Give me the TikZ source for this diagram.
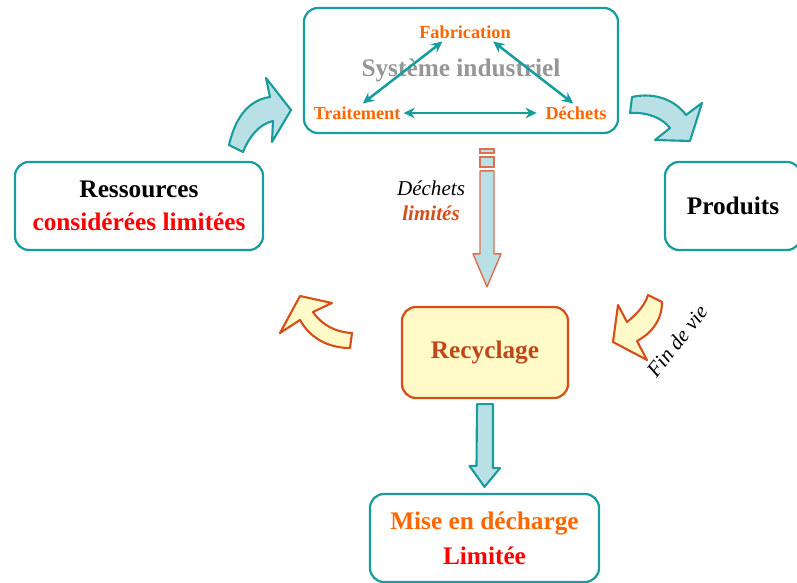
\documentclass[tikz,border=0pt]{standalone}
\usepackage{fontspec}
\setmainfont{Liberation Serif}
\usetikzlibrary{arrows.meta,calc,positioning}

\definecolor{sarcelle}{RGB}{24,156,156}
\definecolor{bleuclair}{RGB}{185,224,228}
\definecolor{orangef}{RGB}{255,102,0}
\definecolor{rougef}{RGB}{255,0,0}
\definecolor{briquef}{RGB}{214,78,26}
\definecolor{cremef}{RGB}{255,250,200}
\definecolor{saumonf}{RGB}{222,112,80}
\definecolor{grisf}{RGB}{150,150,150}

\begin{document}
\begin{tikzpicture}[x=0.025cm,y=-0.025cm,
  boite/.style={draw=sarcelle,line width=1.6pt,rounded corners=10pt,fill=white,align=center},
  etape/.style={text=orangef,font=\fontsize{13}{15}\selectfont\bfseries,inner sep=2pt},
  lien/.style={draw=sarcelle,line width=1.8pt,{Stealth[length=8pt,width=7.5pt]}-{Stealth[length=8pt,width=7.5pt]}},
  flechebleue/.style={draw=sarcelle,fill=bleuclair,line width=1.5pt,line join=round},
  flecheorange/.style={draw=briquef,fill=cremef,line width=1.5pt,line join=round}]
\useasboundingbox (0,0) rectangle (797,583);

% les boites
\node[boite,minimum width=7.85cm,minimum height=3.125cm,text=grisf,font=\fontsize{18}{20}\selectfont\bfseries] (sys) at (461,70.5) {Système industriel};
\node[boite,minimum width=6.2cm,minimum height=2.2cm,font=\fontsize{18}{23}\selectfont\bfseries] (res) at (139,206) {Ressources\\\textcolor{rougef}{considérées limitées}};
\node[boite,minimum width=3.4cm,minimum height=2.2cm,font=\fontsize{18}{21}\selectfont\bfseries] (prod) at (733,206) {Produits};
\node[boite,draw=briquef,fill=cremef,minimum width=4.15cm,minimum height=2.275cm,text=briquef!90!black,font=\fontsize{18}{21}\selectfont\bfseries] (recy) at (485,352.5) {Recyclage};
\node[boite,minimum width=5.725cm,minimum height=2.2cm,font=\fontsize{18}{25}\selectfont\bfseries] (mise) at (484.5,538) {\textcolor{orangef}{Mise en décharge}\\\textcolor{rougef}{Limitée}};

% le cycle interne
\node[etape] (fab) at (465,32) {Fabrication};
\node[etape] (trait) at (357,113) {Traitement};
\node[etape] (dech) at (576,113) {Déchets};
\draw[lien] ([xshift=-16pt]fab.south) -- ([xshift=4pt]trait.north);
\draw[lien] ([xshift=20pt]fab.south) -- ([xshift=-2pt]dech.north);
\draw[lien] (trait.east) -- ([xshift=-4pt]dech.west);

% dechets limites
\filldraw[draw=saumonf,fill=bleuclair,line width=1pt] (480,149) rectangle (494,153);
\filldraw[draw=saumonf,fill=bleuclair,line width=1pt] (480,157) rectangle (494,167);
\draw[draw=saumonf,fill=bleuclair,line width=1pt,line join=round] ($(recy.north)+(2,-19)$) -- ++(14,-33) -- ++(-7,0) -- ++(0,-83) -- ++(-14,0) -- ++(0,83) -- ++(-7,0) -- cycle;
\node[font=\fontsize{15}{18}\selectfont\itshape] (dl) at (431,188) {Déchets};
\node[font=\fontsize{15}{18}\selectfont\bfseries\itshape,text=briquef,below=0pt of dl] {limités};

% vers la decharge
\draw[flechebleue] ($(recy.south)+(-8,5)$) -- ++(16,0) -- ++(0,64) -- ++(7,0) -- ($(mise.north)+(0,-6)$) -- ++(-15,-21) -- ++(7,0) -- cycle;

% fleches courbes
\draw[flechebleue] (229,145) .. controls (236,115) and (250,100) .. (270,97) -- (266,78) -- (291,110) -- (272,142) -- (273,121) .. controls (260,124) and (250,135) .. (243,152) -- cycle;
\draw[flechebleue] (632,97) .. controls (655,92) and (675,100) .. (686,115) -- (702,103) -- (690,141) -- (655,140) -- (670,128) .. controls (662,118) and (648,112) .. (630,113) -- cycle;
\draw[flecheorange] (300,296) -- (332,303) -- (313,312) .. controls (322,325) and (335,332) .. (352,333) -- (350,348) .. controls (328,348) and (310,338) .. (300,320) -- (280,333) -- cycle;
\draw[flecheorange] (648,295) -- (662,302) .. controls (662,320) and (652,333) .. (637,341) -- (647,360) -- (613,342) -- (618,305) -- (627,322) .. controls (637,314) and (645,305) .. (648,295) -- cycle;
\node[font=\fontsize{15}{18}\selectfont\itshape,rotate=52] (fin) at (677,341) {Fin de vie};
\end{tikzpicture}
\end{document}
